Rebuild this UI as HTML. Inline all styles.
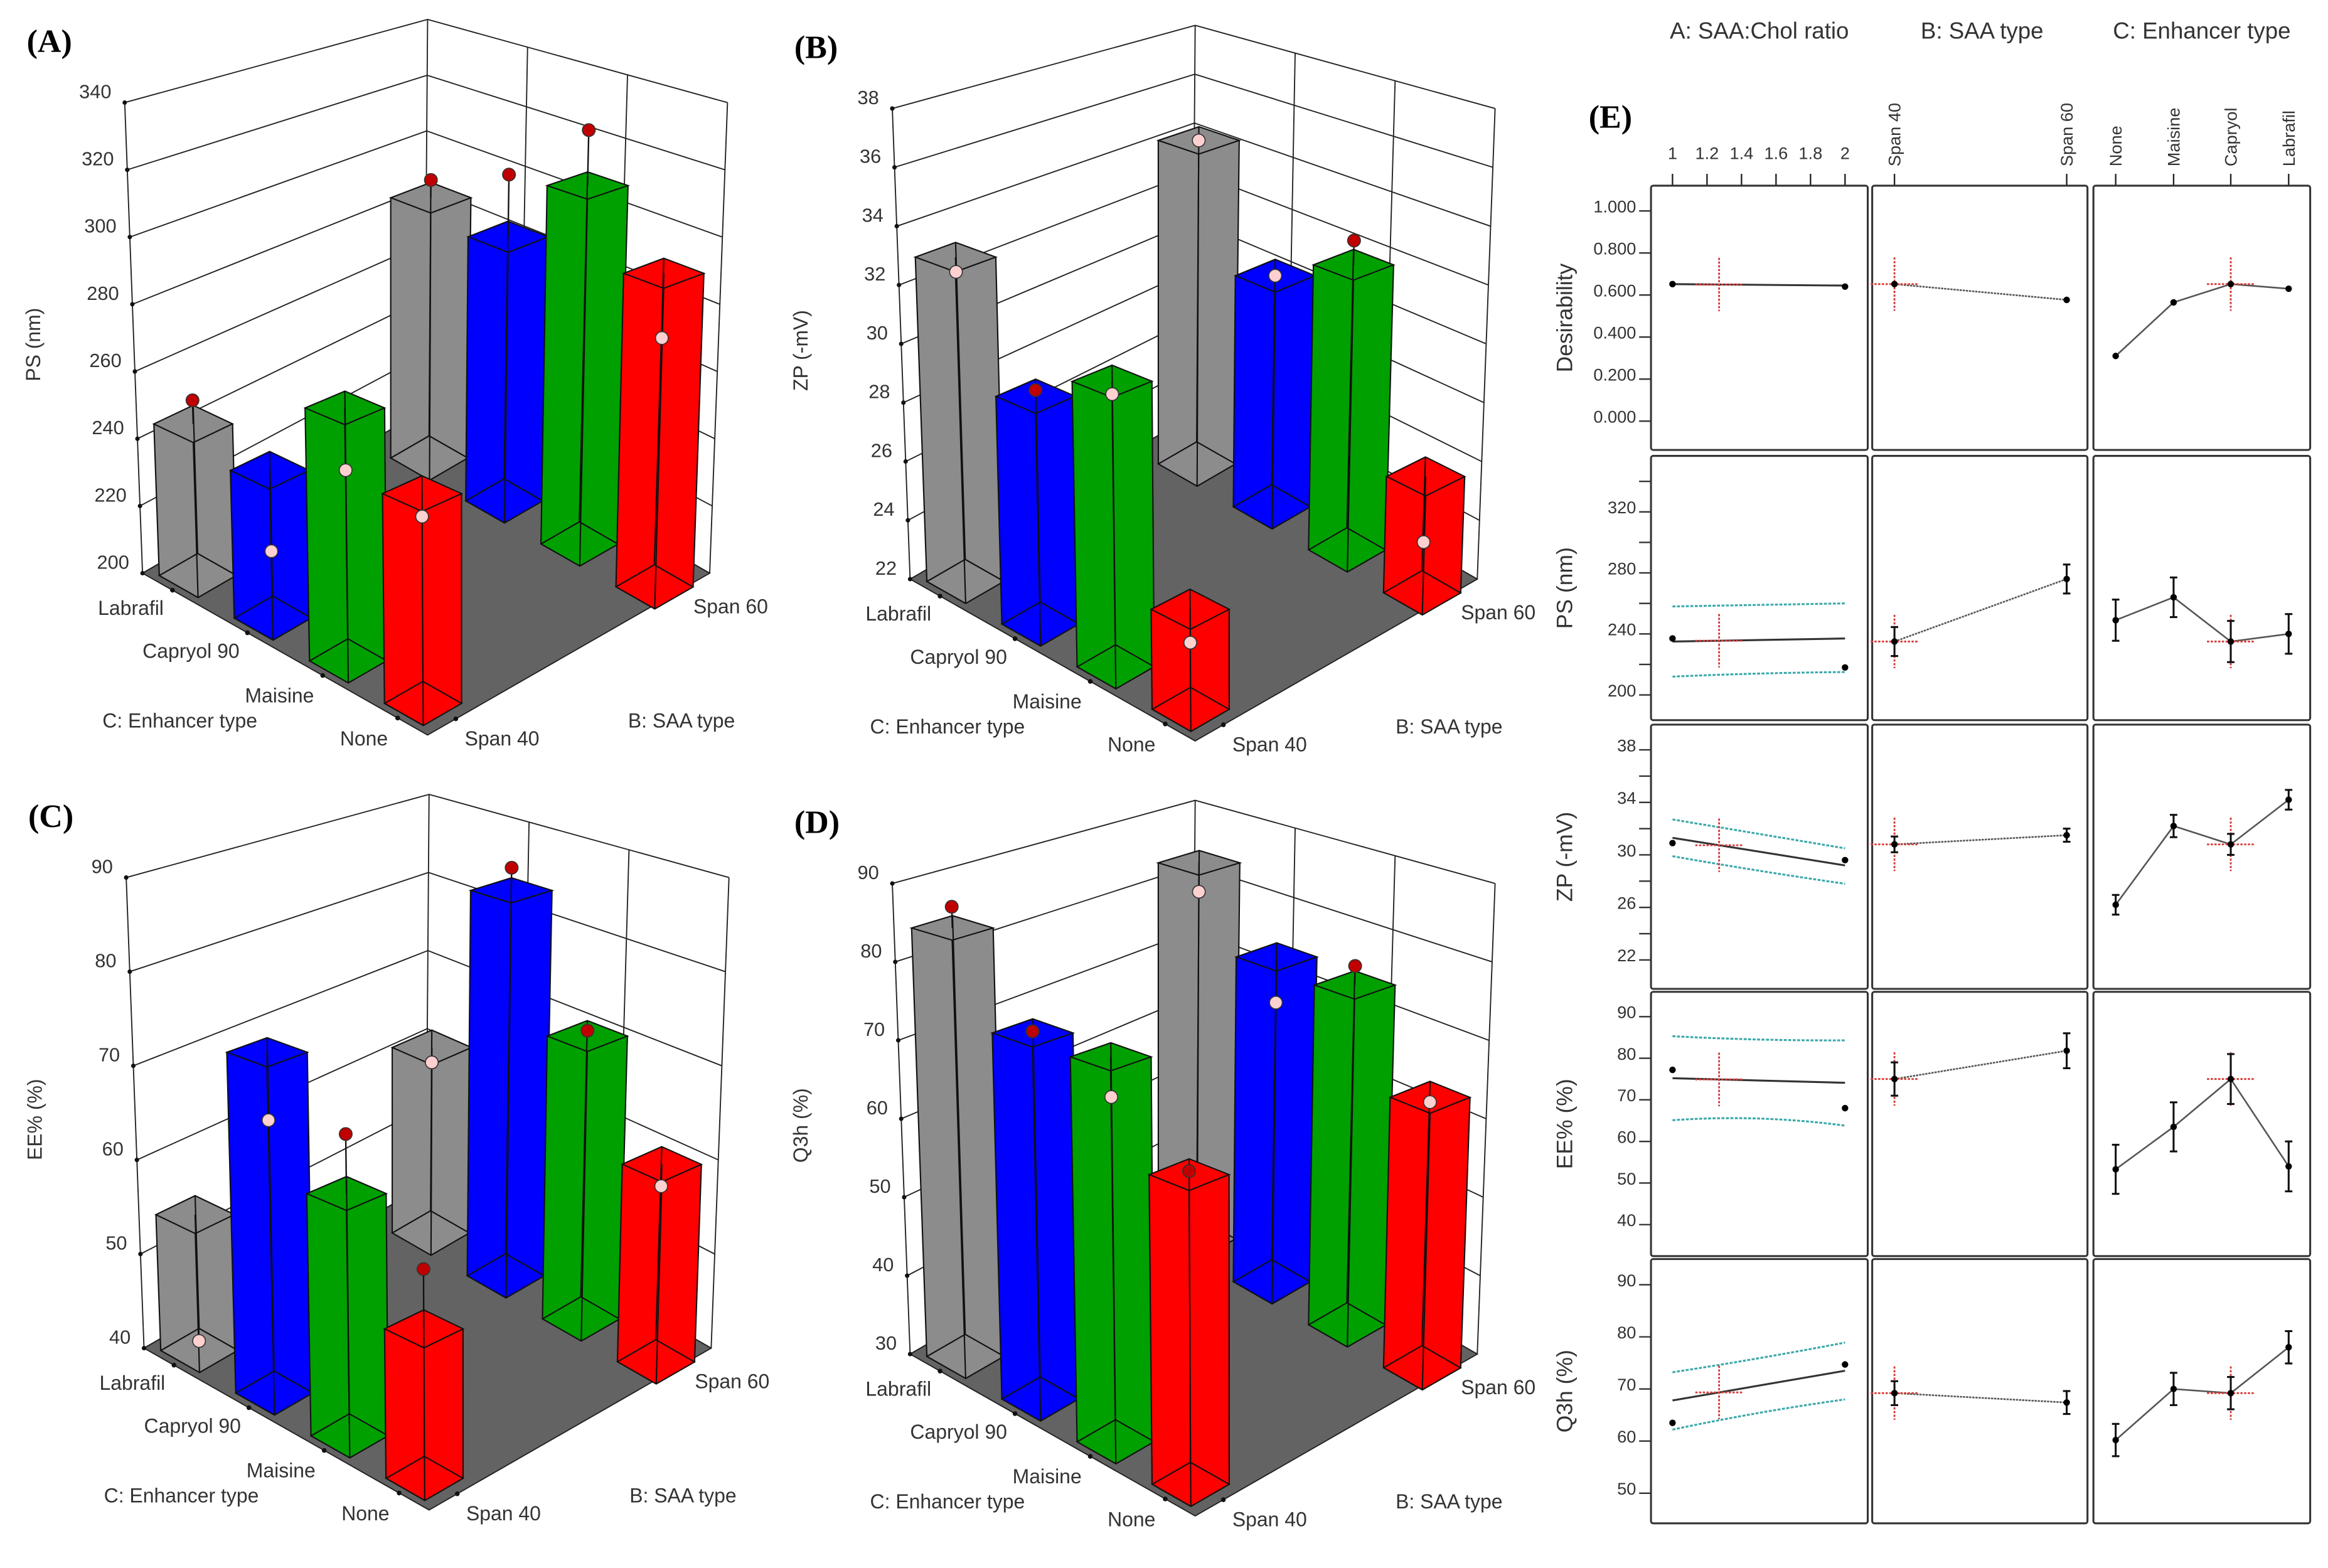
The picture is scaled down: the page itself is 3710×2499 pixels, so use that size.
<!DOCTYPE html>
<html><head><meta charset="utf-8"><style>
html,body{margin:0;padding:0;background:#fff;}
svg{display:block;}
text{font-family:"Liberation Sans",sans-serif;fill:#333;}
</style></head><body>
<svg id="fig" xmlns="http://www.w3.org/2000/svg" width="3710" height="2499" viewBox="0 0 1568 1056">
<rect x="0" y="0" width="1568" height="1056" fill="#fff"/>
</svg>
<script>
// ---------- Data: 3D bar panels (order: Labrafil, Capryol 90, Maisine, None) ----------
const categoriesC = ["Labrafil","Capryol 90","Maisine","None"];
const categoriesB = ["Span 40","Span 60"];
const psSpan40 = [245,242,269,255];
const psSpan60 = [288,285,310,292];
const psActual40 = [252,219,252,249];
const psActual60 = [294,305,327,273];
const psTicks = [200,220,240,260,280,300,320,340];
const zpSpan40 = [33.0,29.4,30.9,25.0];
const zpSpan60 = [34.5,30.5,32.0,25.9];
const zpActual40 = [32.5,29.6,30.5,24.0];
const zpActual60 = [34.5,30.5,32.85,23.7];
const zpTicks = [22,24,26,28,30,32,34,36,38];
const eeSpan40 = [54.4,74.6,63.6,54];
const eeSpan60 = [62.4,84.3,71,60.7];
const eeActual40 = [41,67.7,69.4,59.6];
const eeActual60 = [60.6,86.9,71.6,58.4];
const eeTicks = [40,50,60,70,80,90];
const qSpan40 = [84.5,74.6,75,64.8];
const qSpan60 = [84.5,74.8,74.7,64];
const qActual40 = [87.2,74.8,70.3,65.2];
const qActual60 = [80.3,68.5,77.2,63.4];
const qTicks = [30,40,50,60,70,80,90];

// ---------- Data: panel E ----------
const ratioTicks = [1,1.2,1.4,1.6,1.8,2];
const desA = [0.652,0.645]; const desApts=[0.652,0.640];
const desB = [0.652,0.577];
const desC = [0.31,0.565,0.652,0.63];
const psA = [235,237]; const psAhi=[258,259,260]; const psAlo=[212,214,215]; const psApts=[237,218];
const psB = [235,276]; const psBerr=[9.5,9.5];
const psC = [249,264,235,240]; const psCerr=[13.5,13,13.5,13];
const zpA = [31.3,29.2]; const zpAhi=[32.7,31.6,30.5]; const zpAlo=[29.9,28.8,27.8]; const zpApts=[30.9,29.6];
const zpB = [30.8,31.5]; const zpBerr=[0.6,0.5];
const zpC = [26.2,32.2,30.8,34.2]; const zpCerr=[0.75,0.85,0.8,0.75];
const eeA = [75.2,74.1]; const eeAhi=[85.3,84.5,84.3]; const eeAlo=[65.1,65.5,63.8]; const eeApts=[77.2,68];
const eeB = [75,81.8]; const eeBerr=[4,4.2];
const eeC = [53.3,63.5,75,54]; const eeCerr=[5.9,5.9,6,6];
const qA = [67.8,73.5]; const qAhi=[73.2,75.9,78.9]; const qAlo=[62.2,65.4,68]; const qApts=[63.5,74.7];
const qB = [69.2,67.4]; const qBerr=[2.3,2.2];
const qC = [60.2,70,69.2,78]; const qCerr=[3.1,3.1,3.1,3.1];

const NS="http://www.w3.org/2000/svg";
const svg=document.getElementById('fig');
function el(tag,attrs,parent){const e=document.createElementNS(NS,tag);for(const k in attrs)e.setAttribute(k,attrs[k]);(parent||svg).appendChild(e);return e;}
function txt(str,attrs,parent){const e=el('text',attrs,parent);e.textContent=str;return e;}

// ---------- 3D panels ----------
const G={Lb:[96,386],Lt:[84,69],Ob:[286,276],Ot:[288,13],Rb:[478,386],Rt:[490,69],Fb:[288,495]};
G.Ft=[G.Lt[0]+G.Rt[0]-G.Ot[0],G.Lt[1]+G.Rt[1]-G.Ot[1]];
function bil(c,b,L,F,R,O){return [(1-c)*(1-b)*L[0]+c*(1-b)*F[0]+c*b*R[0]+(1-c)*b*O[0],(1-c)*(1-b)*L[1]+c*(1-b)*F[1]+c*b*R[1]+(1-c)*b*O[1]];}
function makeProj(ox,oy){return function(c,b,f){const p0=bil(c,b,G.Lb,G.Fb,G.Rb,G.Ob),p1=bil(c,b,G.Lt,G.Ft,G.Rt,G.Ot);return [ox+p0[0]+f*(p1[0]-p0[0]),oy+p0[1]+f*(p1[1]-p0[1])];};}
const cPos=[0.105,0.368,0.632,0.895], bPos=[0.09,0.86], cShift=[0,0.05], HH=0.068;
const tickB=[0.1,0.9];
const colors=["#8c8c8c","#0000ff","#00a000","#ff0000"];
function pts(a){return a.map(p=>p[0].toFixed(1)+","+p[1].toFixed(1)).join(" ");}

function panel3D(cfg){
  const g=el('g',{});
  
  
  const P=makeProj(cfg.ox,cfg.oy);
  const mn=cfg.ticks[0],mx=cfg.ticks[cfg.ticks.length-1];
  const fr=v=>(v-mn)/(mx-mn);
  const floor=el('polygon',{points:pts([P(0,0,0),P(1,0,0),P(1,1,0),P(0,1,0)]),fill:"#636363",stroke:"#222","stroke-width":0.8},g);
  
  
  const wall=el('g',{stroke:"#222","stroke-width":0.8,fill:"none"},g);
  
  
  cfg.ticks.forEach(t=>{const f=fr(t);
    el('polyline',{points:pts([P(0,0,f),P(0,1,f),P(1,1,f)])},wall);});
  [[0,0],[0,1],[1,1]].forEach(q=>el('line',{x1:P(q[0],q[1],0)[0],y1:P(q[0],q[1],0)[1],x2:P(q[0],q[1],1)[0],y2:P(q[0],q[1],1)[1]},wall));
  [1/3,2/3].forEach(c=>{const a=P(c,1,0),b=P(c,1,1);el('line',{x1:a[0],y1:a[1],x2:b[0],y2:b[1]},wall);});
  cfg.ticks.forEach(t=>{const p=P(0,0,fr(t));
    el('circle',{cx:p[0],cy:p[1],r:1.5,fill:"#111"},g);
    const tl=txt(String(t),{x:p[0]-9,y:p[1]-3,"text-anchor":"end","font-size":13},g);
    
    
  });
  cPos.forEach(c=>{const p=P(c,0,0);el('circle',{cx:p[0],cy:p[1],r:1.6,fill:"#111"},g);});
  tickB.forEach(b=>{const p=P(1,b,0);el('circle',{cx:p[0],cy:p[1],r:1.6,fill:"#111"},g);});
  const bars=[];
  for(let j=1;j>=0;j--)for(let i=0;i<4;i++){bars.push({i,j,v:(j?cfg.s60:cfg.s40)[i],m:(j?cfg.a60:cfg.a40)[i]});}
  bars.sort((a,b)=>(cPos[a.i]+cShift[a.j]-bPos[a.j])-(cPos[b.i]+cShift[b.j]-bPos[b.j]));
  bars.forEach(bar=>{
    const c=cPos[bar.i]+cShift[bar.j],b=bPos[bar.j],f=fr(bar.v);
    const bg=el('g',{},g);
    
    
    const c0=c-HH,c1=c+HH,b0=b-HH,b1=b+HH;
    const V=(cc,bb,ff)=>P(cc,bb,ff);
    const faces=[
      [V(c0,b0,0),V(c1,b0,0),V(c1,b0,f),V(c0,b0,f)],
      [V(c1,b0,0),V(c1,b1,0),V(c1,b1,f),V(c1,b0,f)],
      [V(c0,b1,0),V(c0,b0,0),V(c0,b0,f),V(c0,b1,f)],
      [V(c0,b1,0),V(c1,b1,0),V(c1,b1,f),V(c0,b1,f)],
      [V(c0,b0,f),V(c1,b0,f),V(c1,b1,f),V(c0,b1,f)]];
    faces.forEach(fc=>el('polygon',{points:pts(fc),fill:colors[bar.i],stroke:"none"},bg));
    const cs=[[c0,b0],[c1,b0],[c1,b1],[c0,b1]];
    const ed=el('g',{stroke:"#111","stroke-width":0.9,fill:"none"},bg);
    [0,f].forEach(ff=>el('polygon',{points:pts(cs.map(q=>V(q[0],q[1],ff)))},ed));
    cs.forEach(q=>{const a=V(q[0],q[1],0),d=V(q[0],q[1],f);el('line',{x1:a[0],y1:a[1],x2:d[0],y2:d[1]},ed);});
    const top=V(c,b,f),mk=V(c,b,fr(bar.m));
    el('line',{x1:top[0],y1:top[1],x2:mk[0],y2:mk[1],stroke:"#111","stroke-width":1},bg);
    const dot=el('circle',{cx:mk[0],cy:mk[1],r:4.3,fill:bar.m>bar.v?"#c00000":"#ffd0d0",stroke:"#333","stroke-width":0.7},bg);
    
    
  });
  const ox=cfg.ox,oy=cfg.oy;
  const L=[["Labrafil",66,414,"c-label-labrafil"],["Capryol 90",96,443,"c-label-capryol"],["Maisine",165,473,"c-label-maisine"],["None",229,502,"c-label-none"],["C: Enhancer type",69,490,"x-axis-title-c"],["Span 40",313,502,"b-label-span40"],["B: SAA type",423,490,"x-axis-title-b"],["Span 60",467,413,"b-label-span60"]];
  L.forEach(l=>{const t=txt(l[0],{x:ox+l[1],y:oy+l[2],"font-size":13.5},g);
    
    });
  const yt=txt(cfg.title,{x:0,y:0,"font-size":13.5,"text-anchor":"middle",transform:`translate(${ox+27},${oy+232}) rotate(-90)`},g);
  
  
  const pl=txt(cfg.letter,{x:ox+18,y:oy+35,"font-size":22,"font-weight":"bold",style:'font-family:"Liberation Serif",serif;fill:#000'},g);
  
  
}
panel3D({name:'panel-a-ps',ox:0,oy:0,ticks:psTicks,s40:psSpan40,s60:psSpan60,a40:psActual40,a60:psActual60,title:"PS (nm)",letter:"(A)"});
panel3D({name:'panel-b-zp',ox:517,oy:4,ticks:zpTicks,s40:zpSpan40,s60:zpSpan60,a40:zpActual40,a60:zpActual60,title:"ZP (-mV)",letter:"(B)"});
panel3D({name:'panel-c-ee',ox:1,oy:522,ticks:eeTicks,s40:eeSpan40,s60:eeSpan60,a40:eeActual40,a60:eeActual60,title:"EE% (%)",letter:"(C)"});
panel3D({name:'panel-d-q3h',ox:517,oy:526,ticks:qTicks,s40:qSpan40,s60:qSpan60,a40:qActual40,a60:qActual60,title:"Q3h (%)",letter:"(D)"});

// ---------- Panel E ----------
const colX=[[1112,1258],[1261,1406],[1410,1556]];
const xA=v=>1126.5+(v-1)*(1242.7-1126.5);
const xB=[1276,1392];
const xC=[1425,1464,1502.5,1541.5];
const E=el('g',{});


const heads=[["A: SAA:Chol ratio",1185],["B: SAA type",1335],["C: Enhancer type",1483]];
heads.forEach(h=>{const t=txt(h[0],{x:h[1],y:26,"text-anchor":"middle","font-size":15.5},E);
  
  });
const le=txt("(E)",{x:1070,y:86,"font-size":22,"font-weight":"bold",style:'font-family:"Liberation Serif",serif;fill:#000'},E);


ratioTicks.forEach(v=>{const x=xA(v);el('line',{x1:x,y1:117,x2:x,y2:125,stroke:"#222","stroke-width":1},E);
  txt(String(v),{x:x,y:107,"text-anchor":"middle","font-size":11.5},E);});
categoriesB.forEach((n,i)=>{el('line',{x1:xB[i],y1:117,x2:xB[i],y2:125,stroke:"#222"},E);
  txt(n,{x:0,y:0,"font-size":11.5,transform:`translate(${xB[i]+4},112) rotate(-90)`},E);});
["None","Maisine","Capryol","Labrafil"].forEach((n,i)=>{el('line',{x1:xC[i],y1:117,x2:xC[i],y2:125,stroke:"#222"},E);
  txt(n,{x:0,y:0,"font-size":11.5,transform:`translate(${xC[i]+4},112) rotate(-90)`},E);});

const rowsE=[
 {name:'desirability',title:'Desirability',top:125,v0:1,p0:142,v1:0,p1:283.6,labels:[0,0.2,0.4,0.6,0.8,1],minor:[],fmt:v=>v.toFixed(3),A:desA,Apts:desApts,B:desB,C:desC},
 {name:'ps',title:'PS (nm)',top:307,v0:320,p0:344.7,v1:200,p1:468,labels:[200,240,280,320],minor:[220,260,300,340],fmt:v=>String(v),A:psA,Ahi:psAhi,Alo:psAlo,Apts:psApts,B:psB,Berr:psBerr,C:psC,Cerr:psCerr},
 {name:'zp',title:'ZP (-mV)',top:488,v0:38,p0:505,v1:22,p1:646.5,labels:[22,26,30,34,38],minor:[24,28,32,36],fmt:v=>String(v),A:zpA,Ahi:zpAhi,Alo:zpAlo,Apts:zpApts,B:zpB,Berr:zpBerr,C:zpC,Cerr:zpCerr},
 {name:'ee',title:'EE% (%)',top:668,v0:90,p0:684.7,v1:40,p1:824.8,labels:[40,50,60,70,80,90],minor:[],fmt:v=>String(v),A:eeA,Ahi:eeAhi,Alo:eeAlo,Apts:eeApts,B:eeB,Berr:eeBerr,C:eeC,Cerr:eeCerr},
 {name:'q3h',title:'Q3h  (%)',top:848,v0:90,p0:865.3,v1:50,p1:1005.7,labels:[50,60,70,80,90],minor:[],fmt:v=>String(v),A:qA,Ahi:qAhi,Alo:qAlo,Apts:qApts,B:qB,Berr:qBerr,C:qC,Cerr:qCerr}
];
function cross(g,x,y){
  el('line',{x1:x-16,y1:y,x2:x+16,y2:y,stroke:"#d83a3a","stroke-width":1.2,"stroke-dasharray":"1.5 1"},g);
  el('line',{x1:x,y1:y-18,x2:x,y2:y+18,stroke:"#d83a3a","stroke-width":1.2,"stroke-dasharray":"1.5 1"},g);
}
function errbar(g,x,y1,y2){el('line',{x1:x,y1:y1,x2:x,y2:y2,stroke:"#111","stroke-width":1.3},g);
  [y1,y2].forEach(y=>el('line',{x1:x-2.5,y1:y,x2:x+2.5,y2:y,stroke:"#111","stroke-width":1.3},g));}
function pt(g,x,y,nm){const c=el('circle',{cx:x,cy:y,r:2.2,fill:"#000"},g);
  
  }
rowsE.forEach(r=>{
  const g=el('g',{},E);
  
  
  const Y=v=>r.p0+(v-r.v0)*(r.p1-r.p0)/(r.v1-r.v0);
  colX.forEach(cx=>el('rect',{x:cx[0],y:r.top,width:cx[1]-cx[0],height:178,fill:"none",stroke:"#333","stroke-width":1.3,rx:1.5},g));
  r.labels.forEach(v=>{const y=Y(v);el('line',{x1:1104,y1:y,x2:1112,y2:y,stroke:"#333"},g);
    txt(r.fmt(v),{x:1102,y:y+1,"text-anchor":"end","font-size":11.5},g);});
  r.minor.forEach(v=>{const y=Y(v);el('line',{x1:1104,y1:y,x2:1112,y2:y,stroke:"#333"},g);});
  const yl=txt(r.title,{x:0,y:0,"font-size":15,"text-anchor":"middle",transform:`translate(${1059},${r.top+89}) rotate(-90)`},g);
  
  
  if(r.Ahi){[r.Ahi,r.Alo].forEach(a=>el('path',{d:`M${xA(1)},${Y(a[0])} Q${xA(1.5)},${2*Y(a[1])-(Y(a[0])+Y(a[2]))/2} ${xA(2)},${Y(a[2])}`,fill:"none",stroke:"#3aa8a8","stroke-width":1.3,"stroke-dasharray":"2 1"},g));}
  el('line',{x1:xA(1),y1:Y(r.A[0]),x2:xA(2),y2:Y(r.A[1]),stroke:"#333","stroke-width":1.3},g);
  const xc=1.27, yc=r.A[0]+(r.A[1]-r.A[0])*(xc-1);
  cross(g,xA(xc),Y(yc));
  r.Apts.forEach((v,i)=>pt(g,xA(1+i),Y(v),'design-point'));
  el('line',{x1:xB[0],y1:Y(r.B[0]),x2:xB[1],y2:Y(r.B[1]),stroke:"#555","stroke-width":1.1,"stroke-dasharray":"1.5 0.6"},g);
  cross(g,xB[0],Y(r.B[0]));
  r.B.forEach((v,i)=>{if(r.Berr)errbar(g,xB[i],Y(v+r.Berr[i]),Y(v-r.Berr[i]));pt(g,xB[i],Y(v),'mean-point');});
  el('polyline',{points:r.C.map((v,i)=>xC[i]+","+Y(v)).join(" "),fill:"none",stroke:"#555","stroke-width":1.1},g);
  cross(g,xC[2],Y(r.C[2]));
  r.C.forEach((v,i)=>{if(r.Cerr)errbar(g,xC[i],Y(v+r.Cerr[i]),Y(v-r.Cerr[i]));pt(g,xC[i],Y(v),'mean-point');});
});
</script>
</body></html>
